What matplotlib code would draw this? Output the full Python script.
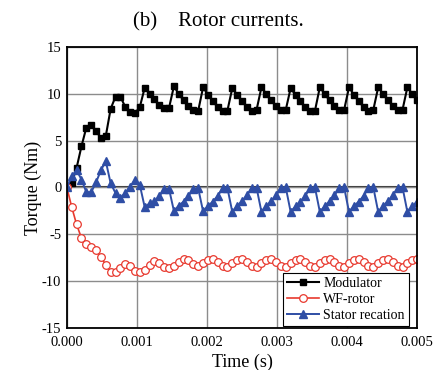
import numpy as np
import matplotlib
matplotlib.use("Agg")
import matplotlib.pyplot as plt

plt.rcParams["font.family"] = ["Liberation Serif", "DejaVu Serif"]
plt.rcParams["axes.unicode_minus"] = False

# values, one sample every 0.005/72 s
modulator = [
    0.0, 0.5, 2.1, 4.4, 6.4, 6.7, 6.0, 5.3, 5.5, 8.4, 9.7, 9.7, 8.6, 8.1, 7.9, 8.6,
    10.65, 10.0, 9.4, 8.8, 8.45, 8.5,
    10.8, 10.0, 9.3, 8.7, 8.3, 8.2,
    10.7, 9.9, 9.2, 8.6, 8.2, 8.2,
    10.6, 9.9, 9.2, 8.6, 8.2, 8.3,
    10.7, 10.0, 9.3, 8.7, 8.3, 8.3,
    10.6, 9.9, 9.2, 8.6, 8.2, 8.2,
    10.7, 10.0, 9.3, 8.7, 8.3, 8.3,
    10.7, 9.9, 9.2, 8.6, 8.2, 8.3,
    10.7, 10.0, 9.3, 8.7, 8.3, 8.3,
    10.7, 10.0, 9.3,
]
wf_rotor = [
    0.0, -2.1, -3.95, -5.4, -6.0, -6.3, -6.7, -7.4, -8.3, -9.0, -9.05, -8.55, -8.2, -8.4, -8.9, -9.05,
    -8.85, -8.25, -7.9, -8.1, -8.45, -8.55, -8.35, -7.95,
    -7.65, -7.7, -8.15, -8.35, -8.1, -7.75,
    -7.6, -7.95, -8.35, -8.45, -8.1, -7.7,
    -7.6, -7.95, -8.35, -8.45, -8.1, -7.7,
    -7.6, -7.95, -8.4, -8.45, -8.1, -7.7,
    -7.6, -7.95, -8.35, -8.45, -8.1, -7.7,
    -7.6, -7.95, -8.35, -8.45, -8.1, -7.7,
    -7.6, -7.95, -8.4, -8.45, -8.1, -7.7,
    -7.6, -7.95, -8.35, -8.45, -8.1, -7.7,
    -7.6,
]
stator = [
    0.0, 1.2, 1.85, 0.85, -0.5, -0.5, 0.55, 1.85, 2.8, 0.45, -0.6, -1.1, -0.6, 0.1, 0.8, 0.25,
    -2.1, -1.7, -1.45, -0.95, -0.15, -0.15,
    -2.5, -1.95, -1.5, -0.9, -0.15, -0.1,
    -2.55, -2.0, -1.5, -0.9, -0.1, -0.05,
    -2.6, -2.0, -1.45, -0.85, -0.05, -0.05,
    -2.6, -2.0, -1.45, -0.85, -0.05, 0.0,
    -2.6, -2.0, -1.5, -0.9, -0.05, 0.0,
    -2.6, -2.0, -1.45, -0.85, -0.05, 0.0,
    -2.6, -2.0, -1.5, -0.9, -0.05, 0.0,
    -2.6, -2.0, -1.45, -0.85, -0.05, 0.0,
    -2.6, -2.0, -1.5,
]
time = np.linspace(0, 0.005, len(modulator))

fig = plt.figure(figsize=(4.4, 3.7), dpi=100)
ax = fig.add_axes([0.152, 0.1135, 0.796, 0.7595])

ax.grid(True, color="#8c8c8c", linewidth=1.0)
ax.axhline(0, color="#333333", linewidth=1.5, zorder=1.5)

ax.plot(time, modulator, color="black", lw=1.5, marker="s", ms=4.8, label="Modulator")
ax.plot(time, wf_rotor, color="#e8392e", lw=1.2, marker="o", ms=5.5,
        markerfacecolor="white", markeredgewidth=0.9, label="WF-rotor")
ax.plot(time, stator, color="#2f4ea5", lw=1.4, marker="^", ms=5.2, label="Stator recation")

ax.set_xlim(0, 0.005)
ax.set_ylim(-15, 15)
ax.set_xticks(np.arange(0, 0.0051, 0.001))
ax.set_xticklabels(["0.000", "0.001", "0.002", "0.003", "0.004", "0.005"])
ax.set_yticks(range(-15, 16, 5))
ax.tick_params(length=0, labelsize=10.5)
ax.tick_params(axis="x", pad=6)
ax.tick_params(axis="y", pad=4)
for s in ax.spines.values():
    s.set_linewidth(1.3)

ax.set_xlabel("Time (s)", fontsize=13, labelpad=3)
ax.set_ylabel("Torque (Nm)", fontsize=13, labelpad=0)

leg = ax.legend(loc="lower right", bbox_to_anchor=(0.977, 0.007), borderaxespad=0,
                fontsize=10, frameon=True, fancybox=False, edgecolor="black",
                framealpha=1, handlelength=2.3, borderpad=0.3, labelspacing=0.2,
                handletextpad=0.3)
leg.get_frame().set_linewidth(0.8)

fig.text(0.497, 0.94, "(b)    Rotor currents.", ha="center", va="center", fontsize=15)

fig.savefig("out.png", dpi=100)
